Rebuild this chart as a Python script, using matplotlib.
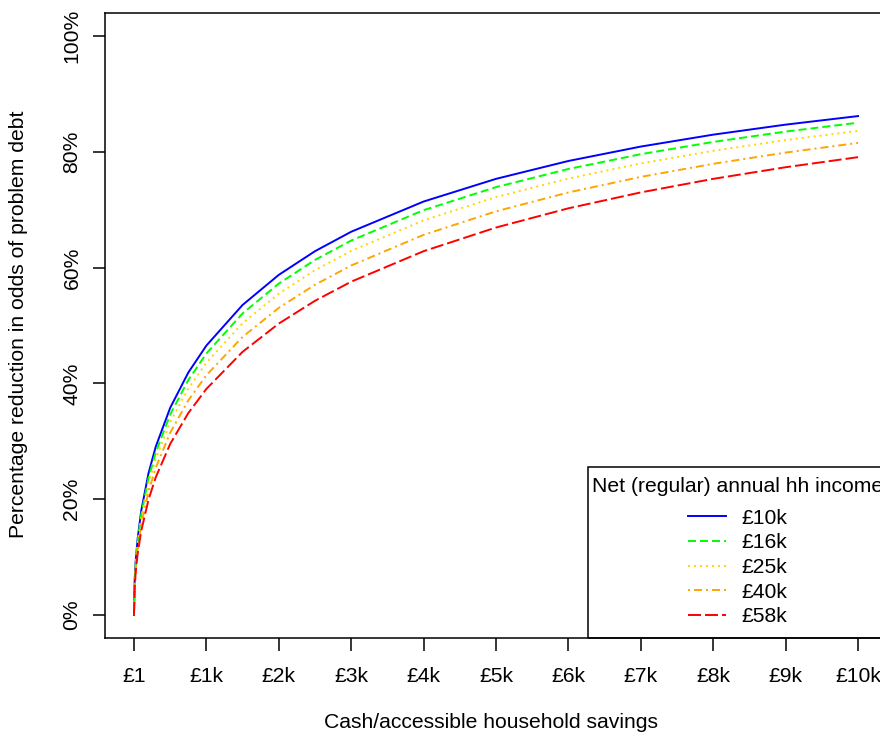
import matplotlib.pyplot as plt
from matplotlib.patches import Rectangle

# Risparmi (in £) e riduzione percentuale delle odds
savings = [0, 10, 25, 50, 100, 200, 300, 500, 750, 1000, 1500, 2000, 2500,
           3000, 4000, 5000, 6000, 7000, 8000, 9000, 10000]

red_10k = [0, 6.07, 9.43, 13.06, 17.96, 24.42, 29.03, 35.77, 41.86, 46.53, 53.55,
           58.75, 62.84, 66.20, 71.42, 75.34, 78.43, 80.92, 82.98, 84.71, 86.19]
red_16k = [0, 5.83, 9.06, 12.57, 17.30, 23.56, 28.04, 34.61, 40.57, 45.16, 52.09,
           57.24, 61.33, 64.68, 69.93, 73.91, 77.05, 79.60, 81.72, 83.51, 85.04]
red_25k = [0, 5.56, 8.65, 12.01, 16.56, 22.59, 26.91, 33.28, 39.09, 43.58, 50.39,
           55.49, 59.55, 62.89, 68.17, 72.20, 75.39, 78.01, 80.19, 82.04, 83.63]
red_40k = [0, 5.20, 8.10, 11.26, 15.55, 21.26, 25.38, 31.47, 37.05, 41.40, 48.03,
           53.04, 57.04, 60.37, 65.66, 69.73, 72.99, 75.68, 77.94, 79.88, 81.55]
red_58k = [0, 4.83, 7.53, 10.48, 14.49, 19.86, 23.74, 29.53, 34.86, 39.04, 45.45,
           50.33, 54.27, 57.57, 62.84, 66.93, 70.25, 73.00, 75.34, 77.35, 79.09]

income_labels = ["£10k", "£16k", "£25k", "£40k", "£58k"]
x_ticks = [0, 1000, 2000, 3000, 4000, 5000, 6000, 7000, 8000, 9000, 10000]
x_tick_labels = ["£1", "£1k", "£2k", "£3k", "£4k", "£5k", "£6k", "£7k", "£8k", "£9k", "£10k"]
y_ticks = [0, 0.2, 0.4, 0.6, 0.8, 1.0]
y_tick_labels = ["0%", "20%", "40%", "60%", "80%", "100%"]

series = [red_10k, red_16k, red_25k, red_40k, red_58k]
colors = ["#0000FF", "#00FF00", "#FFD700", "#FFA500", "#FF0000"]
# trattini in pixel circa come nel grafico originale (R lty 1..5)
dashes_px = [None, (8, 4), (2, 4), (2, 4, 8, 4), (13, 4)]

plt.rcParams['font.family'] = ['Liberation Sans', 'DejaVu Sans']
fs = 15.2
lw = 1.4

fig = plt.figure(figsize=(8.8, 7.38), dpi=100)
W, H = 880, 738
ax = fig.add_axes([105 / W, 100 / H, 782 / W, 625 / H])

for vals, lab, col, d in zip(series, income_labels, colors, dashes_px):
    y = [v / 100 for v in vals]
    line, = ax.plot(savings, y, color=col, lw=lw, label=lab)
    if d is not None:
        # px -> pt, poi diviso per lw perche' matplotlib scala i trattini
        line.set_dashes([v * 0.72 / lw for v in d])

ax.set_xlim(-400, 10400)
ax.set_ylim(-0.04, 1.04)
ax.set_xticks(x_ticks)
ax.set_xticklabels(x_tick_labels)
ax.set_yticks(y_ticks)
ax.set_yticklabels(y_tick_labels, rotation=90, va='center')
ax.tick_params(axis='both', direction='out', length=9, width=1.1, labelsize=fs, colors='black')
ax.tick_params(axis='x', pad=12)
ax.tick_params(axis='y', pad=8)
for s in ax.spines.values():
    s.set_linewidth(1.1)
    s.set_color('black')

ax.set_xlabel("Cash/accessible household savings", fontsize=fs)
ax.xaxis.set_label_coords(491 / W, 1 - 722 / H, transform=fig.transFigure)
ax.xaxis.label.set_va('center')
ax.set_ylabel("Percentage reduction in odds of problem debt", fontsize=fs)
ax.yaxis.set_label_coords(19 / W, 1 - 324 / H, transform=fig.transFigure)
ax.yaxis.label.set_va('center')

# Legenda senza cornice + rettangolo disegnato a parte (come in R)
leg = ax.legend(title="Net (regular) annual hh income", fontsize=fs, title_fontsize=fs,
                loc='upper left', bbox_to_anchor=(592 / W, 1 - 477 / H),
                bbox_transform=fig.transFigure, borderaxespad=0, frameon=False,
                handlelength=1.8, handletextpad=0.7, labelspacing=0.27,
                borderpad=0, alignment='center')
leg._legend_box.sep = 9
fig.add_artist(Rectangle((588 / W, 100 / H), 320 / W, (638 - 467) / H,
                         transform=fig.transFigure, fill=False,
                         edgecolor='black', lw=1.1))

fig.savefig("out.png", dpi=100)
